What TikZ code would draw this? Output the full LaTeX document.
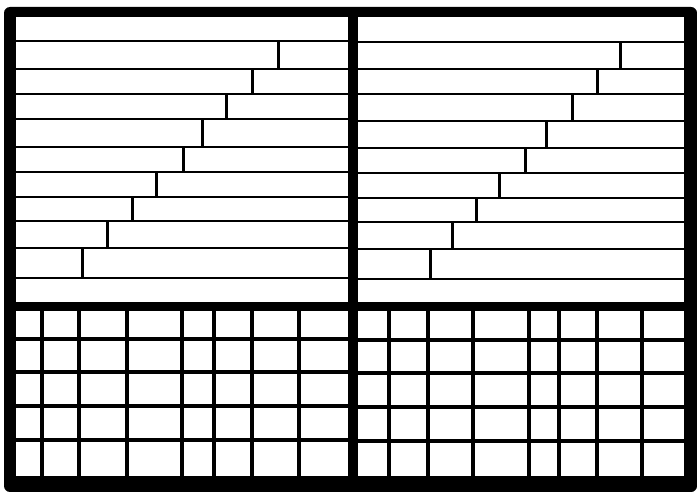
\documentclass[tikz,border=0pt]{standalone}
\usepackage{tikz}
\begin{document}
\begin{tikzpicture}[x=0.5pt,y=-0.5pt,
    course/.style={line width=1.3pt},
    joint/.style={line width=1.5pt},
    gridline/.style={line width=1.6pt},
    midline/.style={line width=2.3pt}]
  \useasboundingbox (0,0) rectangle (697,492);
  % frame and panels
  \fill[black,rounded corners=3pt] (4,7) rectangle (697,492);
  \fill[white] (16,17) rectangle (348,302);
  \fill[white] (358,17) rectangle (684,302);
  \fill[white] (16,311) rectangle (348,476);
  \fill[white] (358,311) rectangle (684,476);
  % top left courses
  \foreach \y in {41,69,94,119,147,172,197,221,248,278}
    \draw[course] (16,\y) -- (348,\y);
  \foreach \x/\ya/\yb in {278/41/69,252/69/94,226/94/119,202/119/147,183/147/172,
      156/172/197,132/197/221,107/221/248,82/248/278}
    \draw[joint] (\x,\ya) -- (\x,\yb);
  % top right courses
  \foreach \y in {42,69,94,121,148,173,198,222,249,279}
    \draw[course] (358,\y) -- (684,\y);
  \foreach \x/\ya/\yb in {620/42/69,597/69/94,572/94/121,546/121/148,525/148/173,
      499/173/198,476/198/222,452/222/249,430/249/279}
    \draw[joint] (\x,\ya) -- (\x,\yb);
  % bottom left grid
  \foreach \y in {339,372,406,440}
    \draw[gridline] (16,\y) -- (348,\y);
  \foreach \x in {42,79,127,214,252,299}
    \draw[gridline] (\x,311) -- (\x,476);
  \draw[midline] (182,311) -- (182,476);
  % bottom right grid
  \foreach \y in {340,373,407,441}
    \draw[gridline] (358,\y) -- (684,\y);
  \foreach \x in {389,428,473,559,597,642}
    \draw[gridline] (\x,311) -- (\x,476);
  \draw[midline] (529,311) -- (529,476);
\end{tikzpicture}
\end{document}
